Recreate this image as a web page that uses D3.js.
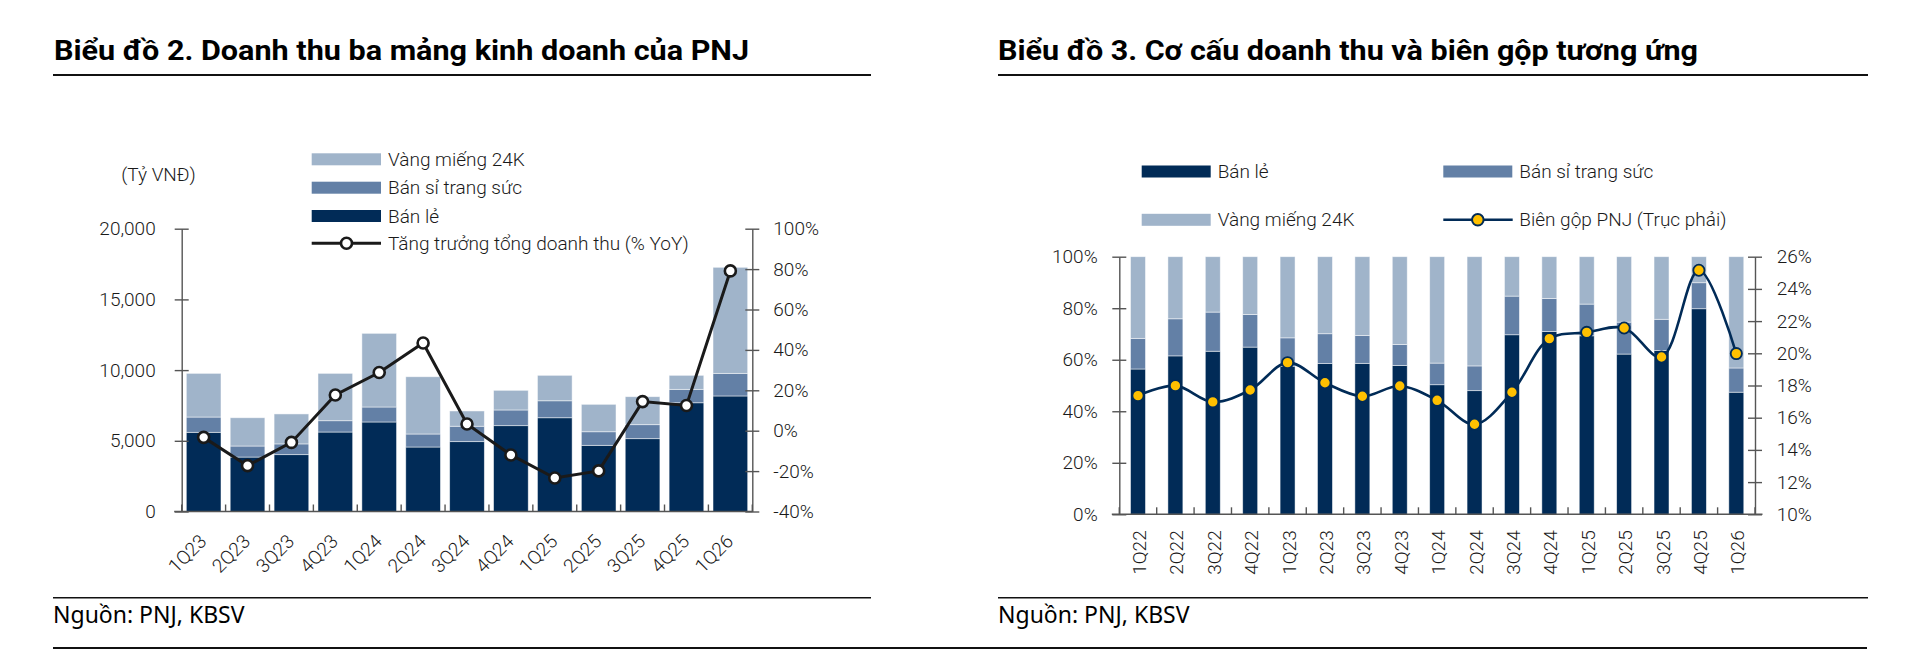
<!DOCTYPE html>
<html>
<head>
  <meta charset="utf-8">
  <title>PNJ - Doanh thu và cơ cấu</title>
  <script src="https://d3js.org/d3.v7.min.js"></script>
  <style>
    body { margin: 0; background: #fff; }
    svg { display: block; }
    .lbl { font-family: Roboto, "Noto Sans", sans-serif; font-weight: 300; font-size: 19px; fill: #1a1a1a; }
    .title { font-family: Roboto, "Noto Sans", sans-serif; font-weight: 700; font-size: 28px; fill: #000; }
    .src { font-family: "Noto Sans", sans-serif; font-size: 23px; fill: #000; }
    .axis path, .axis line { stroke: #555; stroke-width: 1.4; }
    .axis text { font-family: Roboto, "Noto Sans", sans-serif; font-weight: 300; font-size: 19px; fill: #1a1a1a; }
  </style>
</head>
<body>
<script>
// ---- chart 2 data (Tỷ VNĐ, growth %)
var quarters1 = ["1Q23","2Q23","3Q23","4Q23","1Q24","2Q24","3Q24","4Q24","1Q25","2Q25","3Q25","4Q25","1Q26"];
var banLe1     = [5600, 3850, 4020, 5620, 6330, 4560, 4940, 6070, 6630, 4680, 5150, 7690, 8170];
var banSi1     = [1080,  780,  760,  800, 1060,  920, 1090, 1110, 1200,  960,  990,  950, 1600];
var vangMieng1 = [3090, 2000, 2120, 3350, 5210, 4050, 1080, 1390, 1800, 1940, 1980,  990, 7500];
var growth1    = [-3.3, -17.3, -5.8, 17.7, 28.8, 43.4, 3.3, -12.0, -23.4, -19.9, 14.4, 12.5, 79.1];
var ticksL1 = [0, 5000, 10000, 15000, 20000];
var ticksR1 = [-40, -20, 0, 20, 40, 60, 80, 100];

// ---- chart 3 data (% cơ cấu, biên gộp %)
var quarters2 = ["1Q22","2Q22","3Q22","4Q22","1Q23","2Q23","3Q23","4Q23","1Q24","2Q24","3Q24","4Q24","1Q25","2Q25","3Q25","4Q25","1Q26"];
var banLe2     = [56.4, 61.5, 63.3, 64.9, 57.5, 58.5, 58.6, 57.8, 50.3, 48.0, 69.7, 71.0, 69.3, 62.2, 63.6, 79.8, 47.4];
var banSi2     = [11.9, 14.4, 15.2, 12.7, 11.0, 11.6, 10.8,  8.1,  8.4,  9.6, 15.0, 12.8, 12.3, 12.4, 12.1, 10.1,  9.4];
var vangMieng2 = [31.7, 24.1, 21.5, 22.4, 31.5, 29.9, 30.6, 34.1, 41.3, 42.4, 15.3, 16.2, 18.4, 25.4, 24.3, 10.1, 43.2];
var margin2    = [17.37, 17.99, 16.98, 17.72, 19.42, 18.17, 17.33, 17.97, 17.08, 15.59, 17.58, 20.91, 21.30, 21.57, 19.77, 25.16, 19.98];
var ticksL2 = [0, 20, 40, 60, 80, 100];
var ticksR2 = [10, 12, 14, 16, 18, 20, 22, 24, 26];

var keys = ["banLe", "banSi", "vangMieng"];
var colors = { banLe: "#012b57", banSi: "#6380a6", vangMieng: "#a0b4ca" };
var navy = "#012b57";

var svg = d3.select("body").append("svg").attr("width", 1920).attr("height", 661);

// ticks cross the axis line on both sides
function crossTicks(g) {
  g.selectAll(".tick line").attr("x1", 7).attr("x2", -7);
  g.select(".domain").attr("stroke", "#555");
}

// ---------- titles, rules, sources
function header(x, lineX1, lineX2, text, len) {
  svg.append("text").attr("class", "title").attr("x", x).attr("y", 60)
    .attr("textLength", len).attr("lengthAdjust", "spacingAndGlyphs").text(text);
  svg.append("line").attr("x1", lineX1).attr("x2", lineX2).attr("y1", 75).attr("y2", 75)
    .attr("stroke", "#111").attr("stroke-width", 2.2);
  svg.append("line").attr("x1", lineX1).attr("x2", lineX2).attr("y1", 597.7).attr("y2", 597.7)
    .attr("stroke", "#111").attr("stroke-width", 1.6);
  svg.append("text").attr("class", "src").attr("x", lineX1).attr("y", 623).text("Nguồn: PNJ, KBSV");
}
header(54, 53, 871, "Biểu đồ 2. Doanh thu ba mảng kinh doanh của PNJ", 695);
header(998, 998, 1868, "Biểu đồ 3. Cơ cấu doanh thu và biên gộp tương ứng", 700);
svg.append("line").attr("x1", 53).attr("x2", 1867).attr("y1", 648).attr("y2", 648)
  .attr("stroke", "#111").attr("stroke-width", 2.2);

// ---------- chart 2
(function () {
  var x0 = 181.7, x1r = 752.3, yTop = 228.7, yBot = 511.5;
  var data = quarters1.map(function (q, i) {
    return { q: q, banLe: banLe1[i], banSi: banSi1[i], vangMieng: vangMieng1[i], g: growth1[i] };
  });
  var x = d3.scaleBand().domain(quarters1).range([x0, x1r]).paddingInner(0.21).paddingOuter(0.105);
  var yL = d3.scaleLinear().domain([0, 20000]).range([yBot, yTop]);
  var yR = d3.scaleLinear().domain([-40, 100]).range([yBot, yTop]);
  var series = d3.stack().keys(keys)(data);

  svg.append("g").selectAll("g").data(series).join("g")
    .attr("fill", function (s) { return colors[s.key]; })
    .selectAll("rect").data(function (s) { return s; }).join("rect")
    .attr("x", function (d) { return x(d.data.q); })
    .attr("width", x.bandwidth())
    .attr("y", function (d) { return yL(d[1]); })
    .attr("height", function (d) { return yL(d[0]) - yL(d[1]); })
    .attr("stroke", "#fff").attr("stroke-opacity", 0.6).attr("stroke-width", 0.8);

  var gl = svg.append("g").attr("class", "axis").attr("transform", "translate(" + x0 + ",0)")
    .call(d3.axisLeft(yL).tickValues(ticksL1).tickFormat(d3.format(",")).tickSize(7).tickPadding(19).tickSizeOuter(0));
  crossTicks(gl);
  var gr = svg.append("g").attr("class", "axis").attr("transform", "translate(" + x1r + ",0)")
    .call(d3.axisRight(yR).tickValues(ticksR1).tickFormat(function (d) { return d + "%"; }).tickSize(7).tickPadding(14).tickSizeOuter(0));
  crossTicks(gr);

  // category axis
  svg.append("line").attr("x1", x0 - 7.5).attr("x2", x1r).attr("y1", yBot).attr("y2", yBot)
    .attr("stroke", "#555").attr("stroke-width", 1.4);
  svg.append("g").selectAll("line").data(d3.range(quarters1.length + 1)).join("line")
    .attr("x1", function (i) { return x0 + i * x.step(); })
    .attr("x2", function (i) { return x0 + i * x.step(); })
    .attr("y1", yBot).attr("y2", yBot - 7).attr("stroke", "#555").attr("stroke-width", 1.4);
  svg.append("g").selectAll("text").data(quarters1).join("text")
    .attr("class", "lbl").attr("text-anchor", "end")
    .attr("transform", function (q) { return "translate(" + (x(q) + x.bandwidth() / 2 + 4) + "," + (yBot + 31) + ") rotate(-45)"; })
    .text(function (q) { return q; });

  // growth line
  var cx = function (d) { return x(d.q) + x.bandwidth() / 2; };
  svg.append("path").datum(data)
    .attr("fill", "none").attr("stroke", "#1a1a1a").attr("stroke-width", 3)
    .attr("d", d3.line().x(cx).y(function (d) { return yR(d.g); }));
  svg.append("g").selectAll("circle").data(data).join("circle")
    .attr("cx", cx).attr("cy", function (d) { return yR(d.g); }).attr("r", 5.5)
    .attr("fill", "#fff").attr("stroke", "#1a1a1a").attr("stroke-width", 2.6);

  svg.append("text").attr("class", "lbl").attr("text-anchor", "middle")
    .attr("x", 158.5).attr("y", 181).text("(Tỷ VNĐ)");

  // legend
  var leg = [
    { key: "vangMieng", label: "Vàng miếng 24K" },
    { key: "banSi", label: "Bán sỉ trang sức" },
    { key: "banLe", label: "Bán lẻ" },
    { key: "line", label: "Tăng trưởng tổng doanh thu (% YoY)" }
  ];
  var rowY = [159.3, 187.7, 216, 243.3];
  leg.forEach(function (l, i) {
    var y = rowY[i];
    if (l.key === "line") {
      svg.append("line").attr("x1", 311.7).attr("x2", 381).attr("y1", y).attr("y2", y)
        .attr("stroke", "#1a1a1a").attr("stroke-width", 3);
      svg.append("circle").attr("cx", 346.5).attr("cy", y).attr("r", 5.5)
        .attr("fill", "#fff").attr("stroke", "#1a1a1a").attr("stroke-width", 2.6);
    } else {
      svg.append("rect").attr("x", 311.7).attr("y", y - 6).attr("width", 69.3).attr("height", 12)
        .attr("fill", colors[l.key]);
    }
    svg.append("text").attr("class", "lbl").attr("x", 388).attr("y", y + 6.5).text(l.label);
  });
})();

// ---------- chart 3
(function () {
  var x0 = 1119.3, x1r = 1755, yTop = 256.7, yBot = 514.3;
  var data = quarters2.map(function (q, i) {
    return { q: q, banLe: banLe2[i], banSi: banSi2[i], vangMieng: vangMieng2[i], m: margin2[i] };
  });
  var x = d3.scaleBand().domain(quarters2).range([x0, x1r]).paddingInner(0.6).paddingOuter(0.3);
  var yL = d3.scaleLinear().domain([0, 100]).range([yBot, yTop]);
  var yR = d3.scaleLinear().domain([10, 26]).range([yBot, yTop]);
  var series = d3.stack().keys(keys)(data);

  svg.append("g").selectAll("g").data(series).join("g")
    .attr("fill", function (s) { return colors[s.key]; })
    .selectAll("rect").data(function (s) { return s; }).join("rect")
    .attr("x", function (d) { return x(d.data.q); })
    .attr("width", x.bandwidth())
    .attr("y", function (d) { return yL(d[1]); })
    .attr("height", function (d) { return yL(d[0]) - yL(d[1]); })
    .attr("stroke", "#fff").attr("stroke-opacity", 0.6).attr("stroke-width", 0.8);

  var gl = svg.append("g").attr("class", "axis").attr("transform", "translate(" + x0 + ",0)")
    .call(d3.axisLeft(yL).tickValues(ticksL2).tickFormat(function (d) { return d + "%"; }).tickSize(7).tickPadding(14.6).tickSizeOuter(0));
  crossTicks(gl);
  var gr = svg.append("g").attr("class", "axis").attr("transform", "translate(" + x1r + ",0)")
    .call(d3.axisRight(yR).tickValues(ticksR2).tickFormat(function (d) { return d + "%"; }).tickSize(7).tickPadding(14.7).tickSizeOuter(0));
  crossTicks(gr);

  svg.append("line").attr("x1", x0 - 7.5).attr("x2", x1r + 7.5).attr("y1", yBot).attr("y2", yBot)
    .attr("stroke", "#555").attr("stroke-width", 1.4);
  svg.append("g").selectAll("line").data(d3.range(quarters2.length + 1)).join("line")
    .attr("x1", function (i) { return x0 + i * x.step(); })
    .attr("x2", function (i) { return x0 + i * x.step(); })
    .attr("y1", yBot).attr("y2", yBot - 7).attr("stroke", "#555").attr("stroke-width", 1.4);
  svg.append("g").selectAll("text").data(quarters2).join("text")
    .attr("class", "lbl").attr("text-anchor", "end")
    .attr("transform", function (q) { return "translate(" + (x(q) + x.bandwidth() / 2 + 8) + "," + (yBot + 16) + ") rotate(-90)"; })
    .text(function (q) { return q; });

  var cx = function (d) { return x(d.q) + x.bandwidth() / 2; };
  svg.append("path").datum(data)
    .attr("fill", "none").attr("stroke", navy).attr("stroke-width", 2.6)
    .attr("d", d3.line().curve(d3.curveCatmullRom.alpha(0.5)).x(cx).y(function (d) { return yR(d.m); }));
  svg.append("g").selectAll("circle").data(data).join("circle")
    .attr("cx", cx).attr("cy", function (d) { return yR(d.m); }).attr("r", 5.6)
    .attr("fill", "#ffc000").attr("stroke", navy).attr("stroke-width", 1.8);

  // legend
  var leg = [
    { key: "banLe", label: "Bán lẻ", x: 1141.7, y: 171.5 },
    { key: "banSi", label: "Bán sỉ trang sức", x: 1443.3, y: 171.5 },
    { key: "vangMieng", label: "Vàng miếng 24K", x: 1141.7, y: 219.8 },
    { key: "line", label: "Biên gộp PNJ (Trục phải)", x: 1443.3, y: 219.8 }
  ];
  leg.forEach(function (l) {
    if (l.key === "line") {
      svg.append("line").attr("x1", l.x).attr("x2", l.x + 69.4).attr("y1", l.y).attr("y2", l.y)
        .attr("stroke", navy).attr("stroke-width", 2.6);
      svg.append("circle").attr("cx", l.x + 34.5).attr("cy", l.y).attr("r", 5.8)
        .attr("fill", "#ffc000").attr("stroke", navy).attr("stroke-width", 2);
    } else {
      svg.append("rect").attr("x", l.x).attr("y", l.y - 6).attr("width", 69).attr("height", 12)
        .attr("fill", colors[l.key]);
    }
    svg.append("text").attr("class", "lbl").attr("x", l.x + 76).attr("y", l.y + 6.5).text(l.label);
  });
})();
</script>
</body>
</html>
